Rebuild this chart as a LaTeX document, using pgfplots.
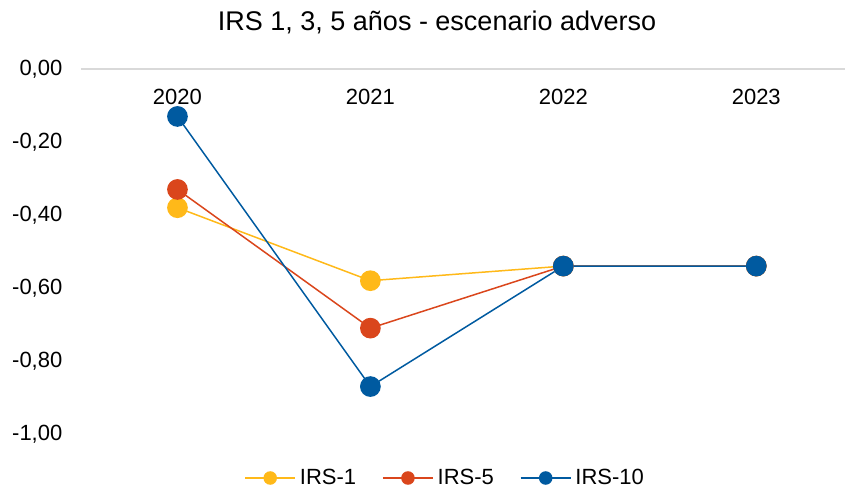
\documentclass[border=0pt]{standalone}
\usepackage{pgfplots}
\pgfplotsset{compat=1.18}
\usepackage{fontspec}
\setmainfont{Liberation Sans}
\definecolor{irsuno}{RGB}{255,185,25}
\definecolor{irscinco}{RGB}{218,70,28}
\definecolor{irsdiez}{RGB}{0,90,160}
\begin{document}
\begin{tikzpicture}
\useasboundingbox (-40.5pt,-29pt) rectangle (382pt,217pt);
\begin{axis}[
    scale only axis,
    width=382pt, height=182.5pt,
    xmin=-0.5, xmax=3.46,
    ymin=-1, ymax=0,
    xtick={0,1,2,3},
    xticklabels={2020,2021,2022,2023},
    ytick={-1,-0.8,-0.6,-0.4,-0.2,0},
    axis line style={draw=none},
    major tick length=0pt,
    xticklabel pos=upper,
    xticklabel style={anchor=center, yshift=-14pt},
    yticklabel style={xshift=-5.8pt},
    tick label style={font=\fontsize{11}{13}\selectfont},
    /pgf/number format/.cd, use comma, fixed, fixed zerofill, precision=2, assume math mode=true,
    /pgfplots/.cd,
    title={IRS 1, 3, 5 años - escenario adverso},
    title style={at={(0.466,1)}, anchor=center, yshift=17.5pt, font=\fontsize{13.5}{16}\selectfont},
    legend columns=3,
    legend style={at={(0.478,0)}, anchor=center, yshift=-22pt, draw=none,
        font=\fontsize{11}{13}\selectfont,
        /tikz/every even column/.append style={column sep=11pt}},
    legend image code/.code={
        \draw[mark repeat=2, mark phase=2, #1, mark size=3pt]
        plot coordinates {(0pt,0pt) (12.5pt,0pt) (25pt,0pt)};},
]
\draw[color=black!15, line width=0.6pt] (rel axis cs:0,1) -- (rel axis cs:1,1);

\addplot[irsuno, line width=0.75pt, mark=*, mark size=4.8pt,
    mark options={draw=irsuno, fill=irsuno}]
    coordinates {(0,-0.38)(1,-0.58)(2,-0.54)(3,-0.54)};
\addlegendentry{IRS-1}

\addplot[irscinco, line width=0.75pt, mark=*, mark size=4.8pt,
    mark options={draw=irscinco, fill=irscinco}]
    coordinates {(0,-0.33)(1,-0.71)(2,-0.54)(3,-0.54)};
\addlegendentry{IRS-5}

\addplot[irsdiez, line width=0.75pt, mark=*, mark size=4.8pt,
    mark options={draw=irsdiez, fill=irsdiez}]
    coordinates {(0,-0.13)(1,-0.87)(2,-0.54)(3,-0.54)};
\addlegendentry{IRS-10}
\end{axis}
\end{tikzpicture}
\end{document}
